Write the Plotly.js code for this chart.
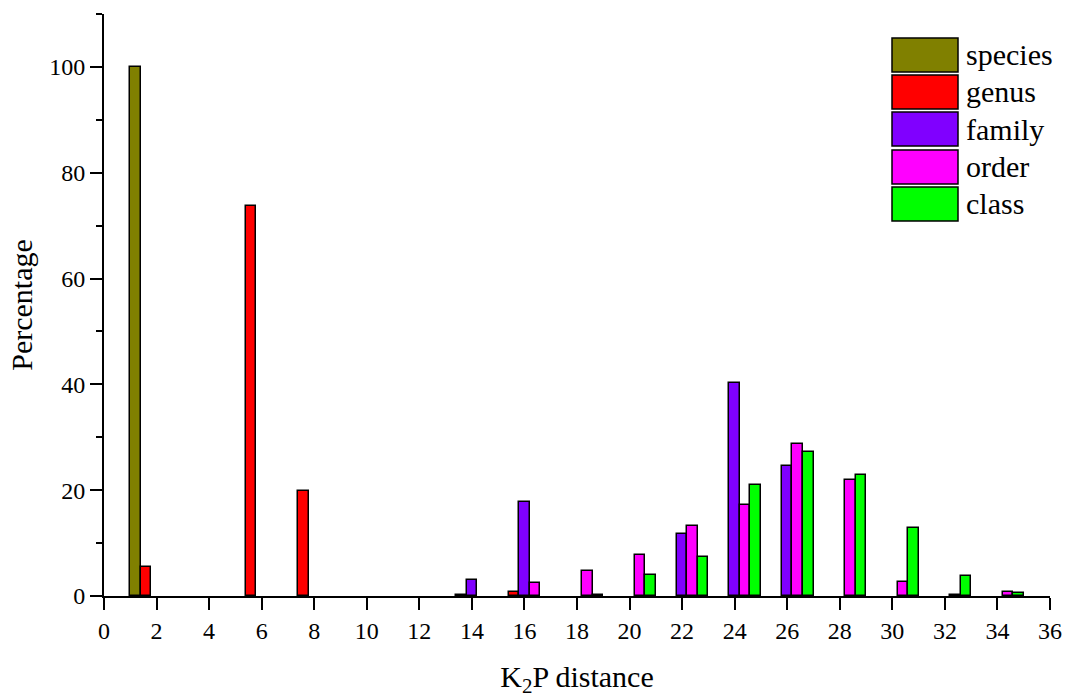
<!DOCTYPE html>
<html>
<head>
<meta charset="utf-8">
<script src="https://cdn.plot.ly/plotly-3.0.1.min.js"></script>
<style>html,body{margin:0;padding:0;background:#fff;}#chart{width:1084px;height:698px;}</style>
</head>
<body>
<div id="chart"></div>
<script>
// K2P distance bins (bin centres)
const bins = [2,4,6,8,10,12,14,16,18,20,22,24,26,28,30,32,34];
const seriesNames = ["species","genus","family","order","class"];
const seriesColors = ["#808000","#FF0000","#8000FF","#FF00FF","#00FF00"];
const species = [100,0,0,0,0,0,0,0,0,0,0,0,0,0,0,0,0];
const genus   = [5.4,0,73.7,19.8,0,0,0.2,0.7,0,0,0,0,0,0,0,0,0];
const family  = [0,0,0,0,0,0,3.0,17.7,0,0,11.8,40.2,24.5,0,0,0,0];
const order   = [0,0,0,0,0,0,0,2.5,4.8,7.7,13.2,17.2,28.8,21.9,2.7,0.1,0.7];
const klass   = [0,0,0,0,0,0,0,0,0.2,4.0,7.3,20.9,27.3,22.8,12.9,3.8,0.5];
const seriesValues = [species, genus, family, order, klass];

const FONT = "'Liberation Serif', 'Times New Roman', serif";

const traces = seriesValues.map((vals, i) => ({
  type: "bar",
  name: seriesNames[i],
  x: bins,
  // empty bins are not drawn (no zero-height outline)
  y: vals.map(v => (v === 0 ? null : v)),
  marker: {color: seriesColors[i], line: {color: "#000", width: 1.5}},
  showlegend: false,
  hoverinfo: "x+y+name"
}));

// plot area in pixels
const L = 104, R = 34, T = 14, B = 102, W = 1084, H = 698;
const pw = W - L - R, ph = H - T - B;
const px2x = p => (p - L) / pw;
const py2y = p => (H - B - p) / ph;

// custom legend (big boxes)
const shapes = [];
const annotations = [];
const boxTop = [38, 75, 112, 150, 187];
seriesNames.forEach((n, i) => {
  const t = boxTop[i], b = t + 34;
  shapes.push({type: "rect", xref: "paper", yref: "paper",
    x0: px2x(892), x1: px2x(958), y0: py2y(b), y1: py2y(t),
    fillcolor: seriesColors[i], line: {color: "#000", width: 1.5}});
  annotations.push({xref: "paper", yref: "paper", x: px2x(964), y: py2y((t + b) / 2),
    xanchor: "left", yanchor: "middle", text: n, showarrow: false,
    font: {family: FONT, size: 30, color: "#000"}});
});

const layout = {
  width: W, height: H,
  margin: {l: L, r: R, t: T, b: B},
  paper_bgcolor: "#fff", plot_bgcolor: "#fff",
  barmode: "group", bargap: 0, bargroupgap: 0,
  font: {family: FONT, color: "#000"},
  xaxis: {
    range: [0, 36], dtick: 2, tick0: 0,
    showline: true, linecolor: "#000", linewidth: 2,
    ticks: "outside", ticklen: 12, tickwidth: 2, tickcolor: "#000",
    showgrid: false, zeroline: false,
    tickfont: {family: FONT, size: 24, color: "#000"},
    title: {text: "K<sub>2</sub>P distance", font: {family: FONT, size: 30, color: "#000"}, standoff: 24}
  },
  yaxis: {
    range: [0, 110], dtick: 20, tick0: 0,
    showline: true, linecolor: "#000", linewidth: 2,
    ticks: "outside", ticklen: 12, tickwidth: 2, tickcolor: "#000",
    minor: {dtick: 10, ticklen: 6, tickwidth: 2, tickcolor: "#000", ticks: "outside"},
    showgrid: false, zeroline: false,
    tickfont: {family: FONT, size: 24, color: "#000"},
    title: {text: "Percentage", font: {family: FONT, size: 30, color: "#000"}, standoff: 8}
  },
  shapes: shapes,
  annotations: annotations
};

Plotly.newPlot("chart", traces, layout, {displayModeBar: false});
</script>
</body>
</html>
